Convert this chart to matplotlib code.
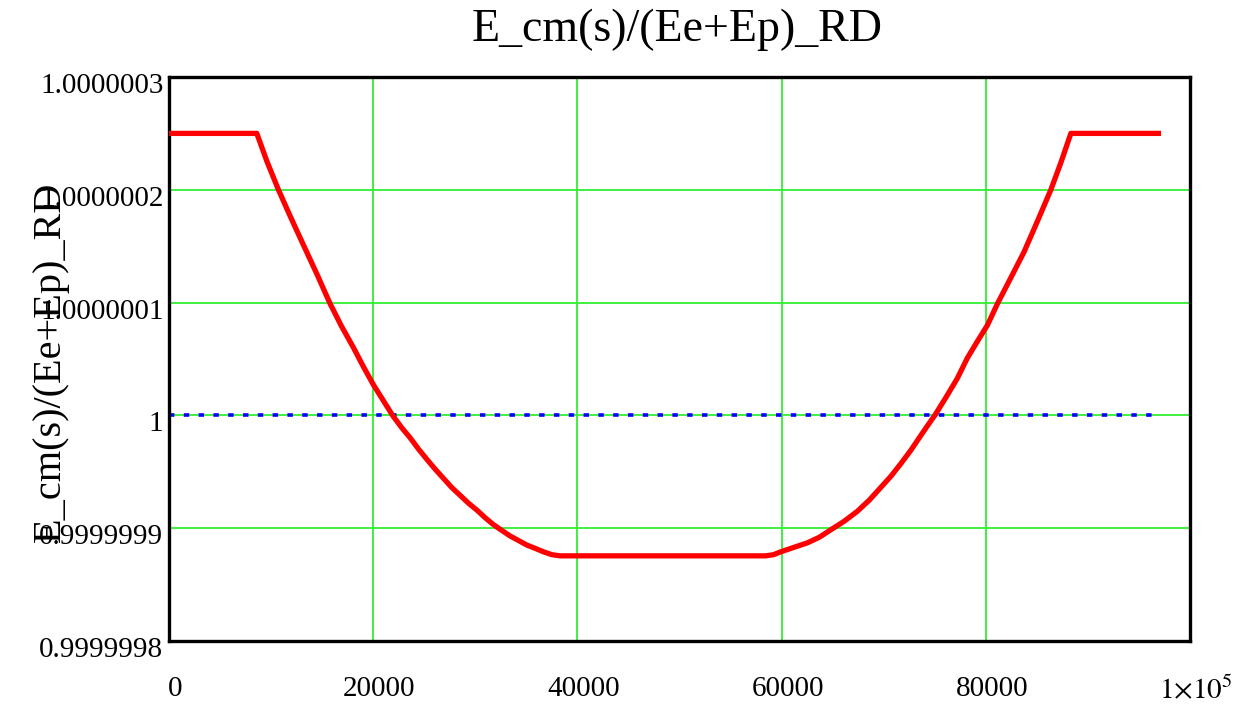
import matplotlib
matplotlib.use("Agg")
import matplotlib.pyplot as plt
import matplotlib.transforms as mtransforms
import numpy as np

# Values (x in s, y as deviation from 1 in units of 1e-7)
ratio_x = [0, 8600, 9600, 10720, 11900, 13170, 14500, 15780, 16900, 18070,
           19050, 20030, 21000, 21900, 22800, 23630, 24450, 25260, 26100,
           26900, 27700, 28530, 29350, 30160, 31000, 31800, 32600, 33430,
           34250, 35060, 35900, 36700, 37500, 38330, 58430, 59200, 59900,
           61200, 62520, 63700, 64800, 66100, 67420, 68600, 69700, 70700,
           71660, 72650, 73620, 74300, 75000, 76100, 77220, 78200, 79200,
           80160, 81140, 82450, 83750, 85050, 86370, 87350, 88330, 96900]
ratio_dev = [2.5, 2.5, 2.25, 2.0, 1.76, 1.51, 1.25, 0.99, 0.79, 0.60,
             0.43, 0.27, 0.13, 0.0, -0.11, -0.20, -0.30, -0.39, -0.48,
             -0.56, -0.64, -0.71, -0.78, -0.84, -0.91, -0.97, -1.02, -1.07,
             -1.11, -1.15, -1.18, -1.21, -1.235, -1.245, -1.245, -1.235, -1.21,
             -1.17, -1.13, -1.08, -1.015, -0.94, -0.85, -0.75, -0.64, -0.54,
             -0.43, -0.31, -0.18, -0.09, 0.0, 0.16, 0.33, 0.51, 0.66,
             0.80, 0.99, 1.22, 1.45, 1.72, 2.0, 2.24, 2.5, 2.5]
ref_x = [0, 96900]
ref_y = [1.0, 1.0]

x_ticks = [0, 20000, 40000, 60000, 80000, 100000]
x_labels = ["0", "20000", "40000", "60000", "80000", r"$1{\times}10^{5}$"]
y_ticks = [0.9999998, 0.9999999, 1.0, 1.0000001, 1.0000002, 1.0000003]
y_labels = ["0.9999998", "0.9999999", "1", "1.0000001", "1.0000002", "1.0000003"]

title = "E_cm(s)/(Ee+Ep)_RD"

plt.rcParams["font.family"] = ["Liberation Serif", "DejaVu Serif"]
plt.rcParams["mathtext.fontset"] = "stix"

fig = plt.figure(figsize=(12.48, 7.10), dpi=100)
ax = fig.add_axes([169 / 1248, 1 - 641 / 710, 1021 / 1248, 564 / 710])

ratio_y = 1.0 + np.array(ratio_dev) * 1e-7

ax.plot(ratio_x, ratio_y, color="#ff0000", lw=3.8, solid_joinstyle="round", zorder=3)
ax.plot(ref_x, ref_y, color="#0000ff", lw=2.6, linestyle=(0, (1.5, 2.6)), zorder=2)

ax.set_xlim(0, 100000)
ax.set_ylim(0.9999998, 1.0000003)
ax.set_xticks(x_ticks)
ax.set_xticklabels(x_labels)
ax.set_yticks(y_ticks)
ax.set_yticklabels(y_labels)
ax.tick_params(length=0, labelsize=21, pad=4)
ax.tick_params(axis="x", pad=25)

ax.grid(True, color="#33ee33", lw=1.3)
ax.set_axisbelow(True)
for side in ax.spines.values():
    side.set_linewidth(2.4)
    side.set_color("black")

# shift labels a bit, Mathcad style
dx = mtransforms.ScaledTranslation(6 / 100, 0, fig.dpi_scale_trans)
for lbl in ax.get_xticklabels():
    lbl.set_transform(lbl.get_transform() + dx)
dy = mtransforms.ScaledTranslation(0, -6 / 100, fig.dpi_scale_trans)
for lbl in ax.get_yticklabels():
    lbl.set_transform(lbl.get_transform() + dy)

fig.text(677 / 1248, 1 - 30 / 710, title, ha="center", va="center", fontsize=33)
fig.text(50 / 1248, 1 - 362 / 710, title, ha="center", va="center",
         rotation=90, fontsize=29)

fig.savefig("out.png", dpi=100, facecolor="white")
